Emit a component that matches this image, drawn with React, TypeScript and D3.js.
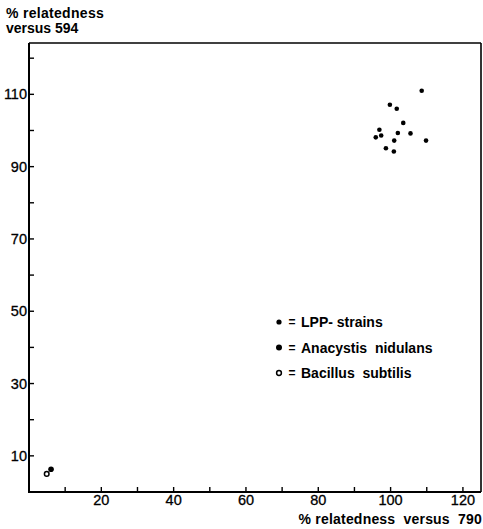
import React from "react";
import * as d3 from "d3";

// LPP strains, read from the cluster near 100/100
const lppX = [108.6, 99.8, 101.7, 103.5, 96.9, 95.9, 97.4, 102.0, 105.5, 101.0, 109.8, 98.7, 100.9];
const lppY = [111.0, 107.1, 106.0, 102.1, 100.2, 98.1, 98.6, 99.3, 99.2, 97.2, 97.2, 95.1, 94.2];
const anacystis = [6.1, 6.3];
const bacillus = [4.9, 5.0];

const xTickLabels = [20, 40, 60, 80, 100, 120];
const yTickLabels = [10, 30, 50, 70, 90, 110];
const minorTicks = d3.range(10, 125, 10);
const legendLabels = ["LPP- strains", "Anacystis  nidulans", "Bacillus  subtilis"];

const W = 483, H = 529;
const margin = { top: 43, right: 2, bottom: 37, left: 29 };
const font = "'Liberation Sans', Arial, sans-serif";

export default function App() {
  const x = d3.scaleLinear().domain([0, 125]).range([margin.left, W - margin.right]);
  const y = d3.scaleLinear().domain([0, 124.2]).range([H - margin.bottom, margin.top]);
  const x0 = x(0), x1 = x(125), y0 = y(0), y1 = y(124.2);

  const lpp = lppX.map((v, i) => ({ x: v, y: lppY[i] }));

  return (
    <svg width={W} height={H} style={{ position: "absolute", left: 0, top: 0, background: "#fff" }}
      fontFamily={font} fill="#000">
      {/* frame */}
      <line x1={x0} x2={x0} y1={y1} y2={y0 + 1} stroke="#000" strokeWidth={2} />
      <line x1={x0 - 1} x2={x1} y1={y0} y2={y0} stroke="#000" strokeWidth={2} />
      <line x1={x0} x2={x1} y1={y1} y2={y1} stroke="#000" strokeWidth={1.6} />
      <line x1={x1} x2={x1} y1={y1} y2={y0} stroke="#000" strokeWidth={1.6} />

      {/* ticks */}
      {minorTicks.map(t => (
        <line key={"xt" + t} x1={x(t)} x2={x(t)} y1={y0} y2={y0 - 5} stroke="#000" strokeWidth={1.4} />
      ))}
      {minorTicks.map(t => (
        <line key={"yt" + t} x1={x0} x2={x0 + 5} y1={y(t)} y2={y(t)} stroke="#000" strokeWidth={1.4} />
      ))}
      {xTickLabels.map(t => (
        <text key={"xl" + t} x={x(t)} y={y0 + 13} textAnchor="middle" fontSize={14.5}
          stroke="#000" strokeWidth={0.3}>{t}</text>
      ))}
      {yTickLabels.map(t => (
        <text key={"yl" + t} x={x0 - 2} y={y(t) + 5} textAnchor="end" fontSize={14.5}
          stroke="#000" strokeWidth={0.3}>{t}</text>
      ))}

      {/* axis titles */}
      <text x={6} y={18} fontSize={14} fontWeight="bold" letterSpacing={0.3}>% relatedness</text>
      <text x={6} y={33} fontSize={14} fontWeight="bold">versus  594</text>
      <text x={W - 1} y={524} textAnchor="end" fontSize={14} fontWeight="bold" letterSpacing={0.2}
        style={{ whiteSpace: "pre" }}>% relatedness  versus  790</text>

      {/* points */}
      {lpp.map((d, i) => (
        <circle key={"p" + i} cx={x(d.x)} cy={y(d.y)} r={2.3} fill="#000" />
      ))}
      <circle cx={x(anacystis[0])} cy={y(anacystis[1])} r={2.8} fill="#000" />
      <circle cx={x(bacillus[0])} cy={y(bacillus[1])} r={2.3} fill="#fff" stroke="#000" strokeWidth={1.5} />

      {/* legend */}
      {legendLabels.map((lab, i) => {
        const cy = 322 + i * 25.5;
        return (
          <g key={lab}>
            {i < 2
              ? <circle cx={279} cy={cy} r={i === 0 ? 2.6 : 3} fill="#000" />
              : <circle cx={279} cy={cy} r={2.4} fill="#fff" stroke="#000" strokeWidth={1.5} />}
            <text x={292} y={cy + 4} textAnchor="middle" fontSize={12} fontWeight="bold">=</text>
            <text x={301} y={cy + 5} fontSize={14} fontWeight="bold" style={{ whiteSpace: "pre" }}>{lab}</text>
          </g>
        );
      })}
    </svg>
  );
}
